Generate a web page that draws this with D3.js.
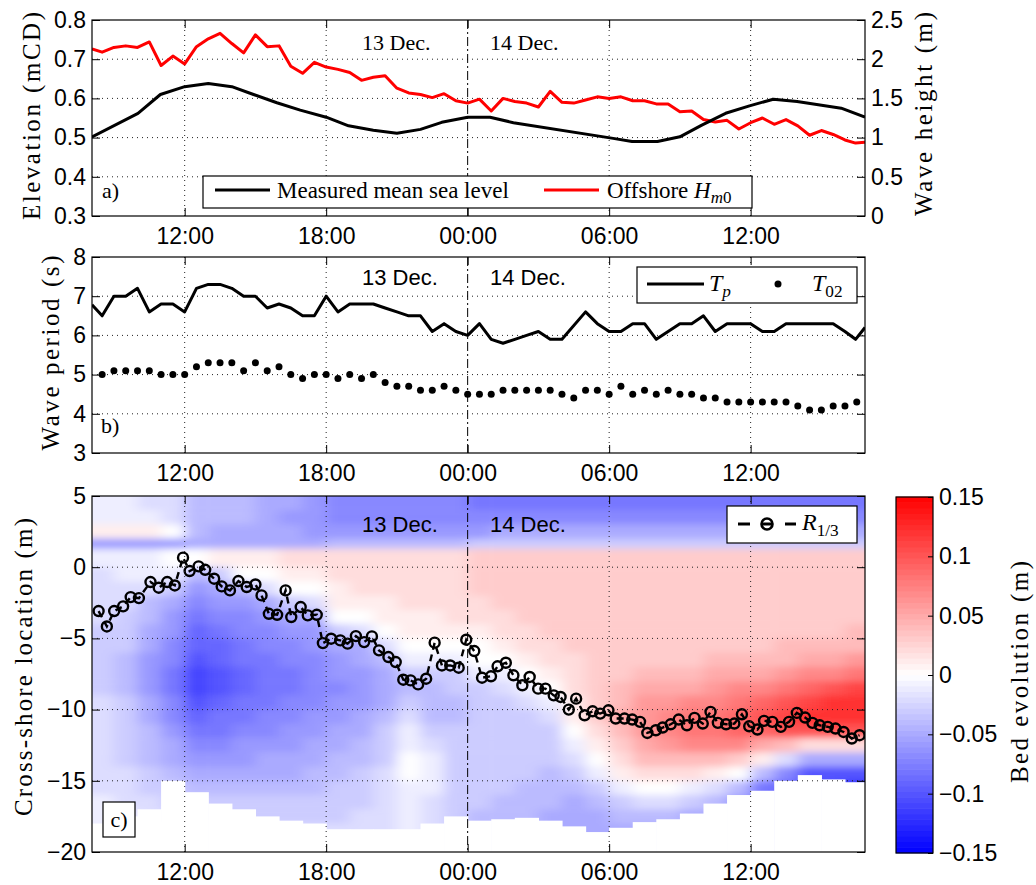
<!DOCTYPE html>
<html>
<head>
<meta charset="utf-8">
<script src="https://cdnjs.cloudflare.com/ajax/libs/d3/7.8.5/d3.min.js"></script>
<style>
  body { margin: 0; background: #fff; }
</style>
</head>
<body>
<div id="chart"></div>
<script>
// ---- data (time in hours relative to 14 Dec 00:00) ----
const timeDomain = [-15.93, 16.85];
const xTicks = [-12, -6, 0, 6, 12];
const xTickLabels = ["12:00", "18:00", "00:00", "06:00", "12:00"];

const elevTicks = [0.3, 0.4, 0.5, 0.6, 0.7, 0.8];
const waveHeightTicks = [0, 0.5, 1, 1.5, 2, 2.5];
const periodTicks = [3, 4, 5, 6, 7, 8];
const crossTicks = [5, 0, -5, -10, -15, -20];
const colorTicks = [-0.15, -0.1, -0.05, 0, 0.05, 0.1, 0.15];
const colorTickLabels = ["\u22120.15", "\u22120.1", "\u22120.05", "0", "0.05", "0.1", "0.15"];

const mslTime = [-15.93, -13.98, -13.03, -12, -11, -10, -9.08, -8.09, -7.1, -6, -5.05, -4, -3, -2, -1.1, 0, 0.95, 1.94, 6.17, 6.97, 8.05, 9, 9.93, 10.94, 11.95, 12.96, 13.97, 15.84, 16.85];
const mslValue = [0.502, 0.562, 0.610, 0.630, 0.638, 0.630, 0.610, 0.589, 0.570, 0.552, 0.530, 0.519, 0.511, 0.521, 0.539, 0.552, 0.552, 0.538, 0.498, 0.490, 0.490, 0.502, 0.532, 0.562, 0.581, 0.598, 0.592, 0.575, 0.552];

const hm0Time = [-15.93, -15.5, -15, -14.5, -14, -13.5, -13, -12.5, -12, -11.5, -11, -10.5, -10, -9.5, -9, -8.5, -8, -7.5, -7, -6.5, -6, -5.5, -5, -4.5, -4, -3.5, -3, -2.5, -2, -1.5, -1, -0.5, 0, 0.5, 1, 1.5, 2, 2.5, 3, 3.5, 4, 4.5, 5, 5.5, 6, 6.5, 7, 7.5, 8, 8.5, 9, 9.5, 10, 10.5, 11, 11.5, 12, 12.5, 13, 13.5, 14, 14.5, 15, 15.5, 16, 16.45, 16.85];
const hm0Value = [2.13, 2.09, 2.15, 2.17, 2.15, 2.22, 1.92, 2.04, 1.94, 2.16, 2.26, 2.33, 2.20, 2.08, 2.31, 2.16, 2.17, 1.91, 1.82, 1.96, 1.90, 1.87, 1.83, 1.73, 1.77, 1.79, 1.63, 1.57, 1.55, 1.51, 1.56, 1.47, 1.44, 1.49, 1.34, 1.50, 1.46, 1.44, 1.39, 1.59, 1.45, 1.44, 1.48, 1.52, 1.50, 1.52, 1.47, 1.47, 1.43, 1.43, 1.33, 1.34, 1.23, 1.20, 1.22, 1.11, 1.19, 1.25, 1.17, 1.23, 1.15, 1.03, 1.09, 1.04, 0.97, 0.93, 0.94];

const tpTime = [-15.93, -15.5, -15, -14.5, -14, -13.5, -13, -12.5, -12, -11.5, -11, -10.5, -10, -9.5, -9, -8.5, -8, -7.5, -7, -6.5, -6, -5.5, -5, -4.5, -4, -3.5, -3, -2.5, -2, -1.5, -1, -0.5, 0, 0.5, 1, 1.5, 2, 2.5, 3, 3.5, 4, 5, 5.5, 6, 6.5, 7, 7.5, 8, 8.5, 9, 9.5, 10, 10.5, 11, 11.5, 12, 12.5, 13, 13.5, 14, 14.5, 15, 15.5, 16, 16.45, 16.85];
const tpValue = [6.78, 6.5, 7.0, 7.0, 7.2, 6.6, 6.8, 6.8, 6.6, 7.2, 7.3, 7.3, 7.2, 7.0, 7.0, 6.7, 6.8, 6.7, 6.5, 6.5, 7.0, 6.6, 6.8, 6.8, 6.8, 6.7, 6.6, 6.5, 6.5, 6.1, 6.3, 6.1, 6.0, 6.3, 5.9, 5.8, 5.9, 6.0, 6.1, 5.9, 5.9, 6.6, 6.3, 6.1, 6.1, 6.3, 6.3, 5.9, 6.1, 6.3, 6.3, 6.5, 6.1, 6.3, 6.3, 6.3, 6.1, 6.1, 6.3, 6.3, 6.3, 6.3, 6.3, 6.1, 5.9, 6.2];

const t02Time = [-15.5, -15, -14.5, -14, -13.5, -13, -12.5, -12, -11.5, -11, -10.5, -10, -9.5, -9, -8.5, -8, -7.5, -7, -6.5, -6, -5.5, -5, -4.5, -4, -3.5, -3, -2.5, -2, -1.5, -1, -0.5, 0, 0.5, 1, 1.5, 2, 2.5, 3, 3.5, 4, 4.5, 5, 5.5, 6, 6.5, 7, 7.5, 8, 8.5, 9, 9.5, 10, 10.5, 11, 11.5, 12, 12.5, 13, 13.5, 14, 14.5, 15, 15.5, 16, 16.5];
const t02Value = [5.0, 5.1, 5.1, 5.1, 5.1, 5.0, 5.0, 5.0, 5.2, 5.3, 5.3, 5.3, 5.1, 5.3, 5.1, 5.2, 5.0, 4.9, 5.0, 5.0, 4.9, 5.0, 4.9, 5.0, 4.8, 4.7, 4.7, 4.6, 4.6, 4.7, 4.6, 4.5, 4.5, 4.5, 4.6, 4.6, 4.6, 4.6, 4.6, 4.5, 4.4, 4.6, 4.6, 4.5, 4.7, 4.5, 4.6, 4.5, 4.6, 4.5, 4.5, 4.4, 4.4, 4.3, 4.3, 4.3, 4.3, 4.3, 4.3, 4.2, 4.1, 4.1, 4.2, 4.2, 4.3];

const rTime = [-15.65, -15.30, -14.99, -14.61, -14.29, -13.94, -13.45, -13.10, -12.74, -12.42, -12.07, -11.79, -11.41, -11.13, -10.75, -10.43, -10.08, -9.72, -9.37, -9.0, -8.74, -8.43, -8.08, -7.72, -7.48, -7.08, -6.78, -6.40, -6.14, -5.79, -5.40, -5.09, -4.74, -4.39, -4.06, -3.76, -3.36, -3.05, -2.73, -2.42, -2.10, -1.76, -1.40, -1.09, -0.74, -0.38, -0.06, 0.28, 0.61, 0.99, 1.27, 1.62, 1.94, 2.32, 2.63, 2.99, 3.30, 3.65, 3.94, 4.29, 4.60, 4.96, 5.30, 5.62, 5.97, 6.28, 6.65, 6.98, 7.31, 7.62, 7.98, 8.27, 8.61, 8.95, 9.30, 9.62, 9.97, 10.30, 10.61, 10.96, 11.31, 11.63, 11.94, 12.29, 12.57, 12.92, 13.28, 13.63, 13.96, 14.31, 14.62, 14.93, 15.27, 15.60, 15.94, 16.29, 16.62];
const rValue = [-3.08, -4.16, -3.08, -2.75, -2.10, -2.17, -1.04, -1.44, -1.04, -1.28, 0.67, -0.27, 0.06, -0.18, -0.81, -1.35, -1.63, -0.97, -1.39, -1.21, -1.98, -3.27, -3.34, -1.63, -3.5, -2.80, -3.38, -3.34, -5.33, -5.02, -5.14, -5.37, -4.84, -5.26, -4.86, -5.84, -6.31, -6.66, -7.90, -7.95, -8.23, -7.83, -5.30, -6.90, -6.90, -7.06, -5.09, -5.89, -7.76, -7.66, -6.96, -6.71, -7.59, -8.29, -7.71, -8.53, -8.53, -9.0, -9.11, -10.0, -9.23, -10.40, -10.12, -10.28, -10.05, -10.63, -10.63, -10.70, -10.86, -11.64, -11.45, -11.26, -11.03, -10.70, -11.10, -10.58, -10.98, -10.16, -10.93, -11.03, -10.98, -10.33, -11.17, -11.40, -10.79, -10.86, -11.21, -10.86, -10.23, -10.56, -10.93, -11.10, -11.21, -11.33, -11.57, -12.03, -11.80];

// bed evolution (cm), one column per hour, rows between bedDepthEdges (top to bottom)
const bedTimes = [-15.5, -14.5, -13.5, -12.5, -11.5, -10.5, -9.5, -8.5, -7.5, -6.5, -5.5, -4.5, -3.5, -2.5, -1.5, -0.5, 0.5, 1.5, 2.5, 3.5, 4.5, 5.5, 6.5, 7.5, 8.5, 9.5, 10.5, 11.5, 12.5, 13.5, 14.5, 15.5, 16.5];
const bedDepthEdges = [5, 4, 3, 2, 1.3, 0, -1, -2, -3, -4, -5, -6, -7, -8, -9, -10, -11, -12, -13, -14, -15, -16, -17, -18, -19, -20];
const bedColumns = [
  [-1,-1,1,-6,-1,-2,-2,-2,-2,-3,-3,-3,-3,-3,-2,-2,-2,-2,-2,-2,-2,-1,-1,-1,-1],
  [-1,-1,1,-6,-1,-1,-2,-2,-3,-3,-3,-4,-4,-4,-3,-3,-3,-3,-3,-2,-2,-2,-1,-1,-1],
  [-2,-1,1,-6,-1,-1,-2,-4,-4,-5,-5,-6,-6,-6,-5,-5,-4,-4,-4,-3,-3,-2,-2,-1,-1],
  [-2,-2,0,-6,0,-1,-3,-5,-6,-6,-7,-7,-8,-8,-7,-7,-6,-5,-5,-4,-3,-3,-2,-2,-2],
  [-4,-4,-4,-5,0,-4,-6,-7,-8,-9,-9,-10,-11,-11,-10,-9,-8,-7,-6,-5,-4,-3,-3,-2,-2],
  [-4,-4,-5,-5,1,-3,-5,-6,-7,-8,-9,-9,-10,-10,-9,-8,-8,-7,-6,-5,-4,-3,-3,-2,-2],
  [-4,-4,-5,-5,1,0,-4,-6,-7,-7,-8,-8,-9,-9,-8,-8,-7,-6,-6,-5,-4,-3,-3,-2,-2],
  [-5,-5,-5,-5,1,0,-2,-5,-6,-7,-7,-8,-8,-8,-8,-7,-7,-6,-5,-5,-4,-3,-3,-2,-2],
  [-5,-6,-5,-5,2,1,0,-3,-5,-6,-7,-7,-8,-8,-7,-7,-6,-6,-5,-5,-4,-3,-3,-2,-2],
  [-6,-6,-6,-5,2,1,0,-2,-5,-6,-6,-7,-7,-7,-7,-6,-6,-5,-5,-4,-4,-3,-3,-2,-2],
  [-7,-7,-6,-4,2,2,1,1,0,-3,-5,-6,-6,-7,-6,-6,-5,-5,-4,-4,-3,-3,-3,-2,-2],
  [-7,-7,-6,-4,2,2,2,1,0,-2,-5,-5,-6,-6,-6,-5,-5,-4,-4,-3,-3,-3,-2,-2,-2],
  [-7,-7,-6,-4,2,2,2,1,1,0,-2,-4,-5,-5,-5,-4,-3,-3,-3,-2,-2,-2,-2,-2,-2],
  [-7,-7,-6,-4,2,2,2,2,1,1,0,-1,-3,-4,-3,-2,-1,-1,0,0,-1,-1,-1,-1,-1],
  [-7,-7,-6,-4,2,2,2,2,1,1,0,-1,-3,-4,-4,-4,-3,-2,-1,-1,-1,-2,-2,-2,-2],
  [-7,-7,-6,-4,2,2,2,2,2,1,0,-1,-3,-3,-4,-4,-3,-3,-3,-3,-3,-3,-3,-3,-3],
  [-8,-7,-6,-3,3,3,3,2,2,1,0,0,-1,-3,-3,-3,-3,-3,-3,-3,-3,-3,-4,-4,-4],
  [-8,-7,-5,-3,3,3,3,3,2,2,1,0,-1,-2,-3,-3,-3,-3,-3,-3,-3,-4,-4,-4,-4],
  [-8,-7,-5,-3,3,3,3,3,3,2,2,1,0,-1,-2,-3,-3,-3,-3,-3,-4,-4,-4,-4,-4],
  [-8,-7,-5,-3,3,3,3,3,3,3,2,2,1,0,-1,-2,-3,-3,-3,-4,-4,-4,-5,-5,-5],
  [-8,-7,-5,-3,3,3,3,3,3,3,3,2,2,2,1,1,0,-1,-2,-3,-4,-5,-5,-5,-5],
  [-8,-7,-5,-3,3,3,3,3,3,3,3,3,3,3,3,3,2,1,0,-1,-3,-4,-5,-5,-5],
  [-8,-7,-5,-3,3,3,3,3,3,3,3,3,3,4,4,5,4,3,2,1,-1,-3,-4,-5,-5],
  [-8,-7,-5,-3,3,3,3,3,3,3,3,3,4,5,6,6,6,5,4,2,0,-2,-4,-5,-5],
  [-8,-7,-5,-3,3,3,3,3,3,3,3,3,4,5,6,7,7,6,4,2,0,-2,-4,-5,-5],
  [-8,-7,-5,-3,3,3,3,3,3,3,3,3,4,5,7,8,8,7,4,2,-1,-3,-5,-5,-5],
  [-8,-7,-5,-3,3,3,3,3,3,3,3,4,5,6,7,8,8,7,4,1,-2,-4,-5,-5,-5],
  [-8,-7,-5,-3,3,3,3,3,3,3,3,4,5,7,8,9,9,7,3,0,-4,-6,-6,-6,-6],
  [-8,-7,-5,-3,3,3,3,3,3,3,3,4,5,7,9,10,9,5,1,-4,-8,-8,-8,-8,-8],
  [-8,-7,-5,-3,3,3,3,3,3,3,4,4,6,8,10,11,10,4,-2,-7,-9,-9,-9,-9,-9],
  [-8,-7,-5,-3,3,3,3,3,3,3,4,5,7,9,11,12,10,2,-5,-10,-11,-11,-11,-11,-11],
  [-8,-7,-5,-3,3,3,3,3,3,3,4,5,7,10,12,12,10,2,-5,-10,-11,-11,-11,-11,-11],
  [-8,-7,-5,-3,3,3,3,3,3,4,4,6,8,11,12,12,10,2,-5,-10,-12,-12,-12,-12,-12]
];
// lowest cross-shore position with data, per column (white below)
const bedFloor = [-18.0, -17.5, -17.0, -15.0, -15.8, -16.6, -17.0, -17.5, -17.8, -18.0, -18.4, -18.4, -18.4, -18.4, -18.0, -17.5, -17.8, -17.7, -17.6, -17.8, -18.2, -18.6, -18.3, -17.9, -17.7, -17.3, -16.6, -16.0, -15.7, -15.0, -14.6, -14.9, -15.1];

// ---- layout ----
const width = 1036, height = 885;
const X0 = 92, X1 = 865;
const pA = { top: 20, bottom: 216 };
const pB = { top: 257, bottom: 453 };
const pC = { top: 496, bottom: 852 };
const cb = { left: 896, right: 933, top: 497, bottom: 853 };

const sans = "'Liberation Sans', Arial, Helvetica, sans-serif";
const serif = "'Liberation Serif', 'Times New Roman', serif";
const tickSize = 23;

const svg = d3.select("#chart").append("svg")
  .attr("width", width).attr("height", height)
  .style("background", "#fff");

const defs = svg.append("defs");
[["clipA", pA], ["clipB", pB], ["clipC", pC]].forEach(([id, p]) => {
  defs.append("clipPath").attr("id", id).append("rect")
    .attr("x", X0).attr("y", p.top).attr("width", X1 - X0).attr("height", p.bottom - p.top);
});
defs.append("filter").attr("id", "soft")
  .append("feGaussianBlur").attr("stdDeviation", "7 3.5");

const x = d3.scaleLinear().domain(timeDomain).range([X0, X1]);
const yElev = d3.scaleLinear().domain([0.3, 0.8]).range([pA.bottom, pA.top]);
const yHs = d3.scaleLinear().domain([0, 2.5]).range([pA.bottom, pA.top]);
const yPer = d3.scaleLinear().domain([3, 8]).range([pB.bottom, pB.top]);
const yCross = d3.scaleLinear().domain([-20, 5]).range([pC.bottom, pC.top]);
const color = d3.scaleLinear().domain([-0.15, 0, 0.15]).range(["#0000ff", "#ffffff", "#ff0000"]).clamp(true);

function grid(p, yScale, yTicks) {
  const g = svg.append("g").attr("stroke", "#222").attr("stroke-width", 1).attr("stroke-dasharray", "1,4");
  g.selectAll("line.gx").data(xTicks.filter(d => d !== 0)).join("line")
    .attr("x1", d => x(d)).attr("x2", d => x(d)).attr("y1", p.top).attr("y2", p.bottom);
  g.selectAll("line.gy").data(yTicks.slice(1, -1)).join("line")
    .attr("x1", X0).attr("x2", X1).attr("y1", d => yScale(d)).attr("y2", d => yScale(d));
  // midnight dash-dot line
  svg.append("line")
    .attr("x1", x(0)).attr("x2", x(0)).attr("y1", p.top).attr("y2", p.bottom)
    .attr("stroke", "#000").attr("stroke-width", 1).attr("stroke-dasharray", "9,3,2,3");
}

function styleAxis(g) {
  g.select(".domain").remove();
  g.selectAll(".tick line").attr("stroke", "#000");
  g.selectAll(".tick text").attr("font-family", sans).attr("font-size", tickSize).attr("fill", "#000");
}

function axes(p, yScale, yTicks, yFmt, rightScale, rightTicks, rightFmt) {
  svg.append("g").attr("transform", `translate(0,${p.bottom})`)
    .call(d3.axisBottom(x).tickValues(xTicks).tickFormat((d, i) => xTickLabels[i]).tickSize(-8).tickPadding(12))
    .call(styleAxis);
  svg.append("g").attr("transform", `translate(0,${p.top})`)
    .call(d3.axisTop(x).tickValues(xTicks).tickFormat("").tickSize(-8))
    .call(styleAxis);
  svg.append("g").attr("transform", `translate(${X0},0)`)
    .call(d3.axisLeft(yScale).tickValues(yTicks).tickFormat(yFmt).tickSize(-8).tickPadding(6))
    .call(styleAxis);
  svg.append("g").attr("transform", `translate(${X1},0)`)
    .call(d3.axisRight(rightScale || yScale).tickValues(rightTicks || yTicks)
      .tickFormat(rightFmt || "").tickSize(-8).tickPadding(6))
    .call(styleAxis);
  svg.append("rect").attr("x", X0).attr("y", p.top).attr("width", X1 - X0).attr("height", p.bottom - p.top)
    .attr("fill", "none").attr("stroke", "#000").attr("stroke-width", 1.2);
}

function rotLabel(txt, cx, cy, len, size) {
  svg.append("text")
    .attr("transform", `translate(${cx},${cy}) rotate(-90)`)
    .attr("text-anchor", "middle").attr("dy", "0.33em")
    .attr("font-family", serif).attr("font-size", size)
    .attr("textLength", len).attr("lengthAdjust", "spacing")
    .text(txt);
}

function dateLabels(yBase, font, size) {
  svg.append("text").attr("x", 362).attr("y", yBase).attr("font-family", font).attr("font-size", size).text("13 Dec.");
  svg.append("text").attr("x", 490).attr("y", yBase).attr("font-family", font).attr("font-size", size).text("14 Dec.");
}

function mathLabel(g, px, py, main, sub, subItalic, size) {
  const t = g.append("text").attr("x", px).attr("y", py).attr("font-family", serif).attr("font-size", size);
  t.append("tspan").attr("font-style", "italic").text(main);
  t.append("tspan").attr("dy", 6).attr("font-size", size * 0.72)
    .attr("font-style", subItalic ? "italic" : "normal").text(sub);
  return t;
}

// ================= panel a =================
grid(pA, yElev, elevTicks);
const gA = svg.append("g").attr("clip-path", "url(#clipA)");
gA.append("path")
  .datum(d3.zip(hm0Time, hm0Value))
  .attr("d", d3.line().x(d => x(d[0])).y(d => yHs(d[1])))
  .attr("fill", "none").attr("stroke", "#ff0000").attr("stroke-width", 3).attr("stroke-linejoin", "round");
gA.append("path")
  .datum(d3.zip(mslTime, mslValue))
  .attr("d", d3.line().x(d => x(d[0])).y(d => yElev(d[1])))
  .attr("fill", "none").attr("stroke", "#000").attr("stroke-width", 3).attr("stroke-linejoin", "round");
axes(pA, yElev, elevTicks, d3.format(".1f"), yHs, waveHeightTicks, d3.format("~g"));
dateLabels(50, serif, 22);
svg.append("text").attr("x", 102).attr("y", 198).attr("font-family", serif).attr("font-size", 22).text("a)");

const legA = svg.append("g");
legA.append("rect").attr("x", 203).attr("y", 176).attr("width", 549).attr("height", 32)
  .attr("fill", "#fff").attr("stroke", "#000").attr("stroke-width", 1.2);
legA.append("line").attr("x1", 215).attr("x2", 270).attr("y1", 190).attr("y2", 190)
  .attr("stroke", "#000").attr("stroke-width", 3);
legA.append("text").attr("x", 277).attr("y", 198).attr("font-family", serif).attr("font-size", 23)
  .text("Measured mean sea level");
legA.append("line").attr("x1", 544).attr("x2", 599).attr("y1", 190).attr("y2", 190)
  .attr("stroke", "#ff0000").attr("stroke-width", 3);
const offT = legA.append("text").attr("x", 607).attr("y", 198).attr("font-family", serif).attr("font-size", 23);
offT.append("tspan").text("Offshore ");
offT.append("tspan").attr("font-style", "italic").text("H");
offT.append("tspan").attr("dy", 5).attr("font-size", 17).attr("font-style", "italic").text("m");
offT.append("tspan").attr("font-size", 17).text("0");

rotLabel("Elevation (mCD)", 32, 116, 208, 25);
rotLabel("Wave height (m)", 924, 114, 204, 25);

// ================= panel b =================
grid(pB, yPer, periodTicks);
const gB = svg.append("g").attr("clip-path", "url(#clipB)");
gB.append("path")
  .datum(d3.zip(tpTime, tpValue))
  .attr("d", d3.line().x(d => x(d[0])).y(d => yPer(d[1])))
  .attr("fill", "none").attr("stroke", "#000").attr("stroke-width", 3).attr("stroke-linejoin", "round");
gB.selectAll("circle.t02").data(d3.zip(t02Time, t02Value)).join("circle")
  .attr("cx", d => x(d[0])).attr("cy", d => yPer(d[1])).attr("r", 3.5).attr("fill", "#000");
axes(pB, yPer, periodTicks, d3.format("d"));
dateLabels(285, sans, 22);
svg.append("text").attr("x", 101).attr("y", 433).attr("font-family", serif).attr("font-size", 22).text("b)");

const legB = svg.append("g");
legB.append("rect").attr("x", 637).attr("y", 267).attr("width", 220).attr("height", 36)
  .attr("fill", "#fff").attr("stroke", "#000").attr("stroke-width", 1.2);
legB.append("line").attr("x1", 647).attr("x2", 704).attr("y1", 284).attr("y2", 284)
  .attr("stroke", "#000").attr("stroke-width", 3);
mathLabel(legB, 709, 291, "T", "p", true, 24);
legB.append("circle").attr("cx", 778).attr("cy", 284).attr("r", 3.5).attr("fill", "#000");
mathLabel(legB, 812, 291, "T", "02", false, 24);

rotLabel("Wave period (s)", 51, 353, 195, 25);

// ================= panel c =================
const cells = [];
bedColumns.forEach((col, i) => col.forEach((v, j) => cells.push({ i, j, v: v / 100 })));
const lastCol = bedTimes.length - 1, lastRow = bedDepthEdges.length - 2;
const gC = svg.append("g").attr("clip-path", "url(#clipC)");
gC.append("g").attr("filter", "url(#soft)")
  .selectAll("rect").data(cells).join("rect")
  .attr("x", d => x(bedTimes[d.i] - 0.5) - (d.i === 0 ? 30 : 0))
  .attr("width", d => x(bedTimes[d.i] + 0.5) - x(bedTimes[d.i] - 0.5) + 0.6 + (d.i === 0 || d.i === lastCol ? 30 : 0))
  .attr("y", d => yCross(bedDepthEdges[d.j]) - (d.j === 0 ? 30 : 0))
  .attr("height", d => yCross(bedDepthEdges[d.j + 1]) - yCross(bedDepthEdges[d.j]) + 0.6 + (d.j === 0 || d.j === lastRow ? 30 : 0))
  .attr("fill", d => color(d.v));
gC.selectAll("rect.mask").data(bedTimes).join("rect")
  .attr("x", (d, i) => x(d - 0.5) - (i === 0 ? 30 : 0))
  .attr("width", (d, i) => x(d + 0.5) - x(d - 0.5) + 0.6 + (i === 0 || i === lastCol ? 30 : 0))
  .attr("y", (d, i) => yCross(bedFloor[i]))
  .attr("height", (d, i) => pC.bottom + 10 - yCross(bedFloor[i]))
  .attr("fill", "#fff");

grid(pC, yCross, crossTicks.slice().reverse());

const rPts = d3.zip(rTime, rValue);
gC.append("path")
  .datum(rPts)
  .attr("d", d3.line().x(d => x(d[0])).y(d => yCross(d[1])))
  .attr("fill", "none").attr("stroke", "#000").attr("stroke-width", 2.4).attr("stroke-dasharray", "7,5");
gC.selectAll("circle.r").data(rPts).join("circle")
  .attr("cx", d => x(d[0])).attr("cy", d => yCross(d[1])).attr("r", 5)
  .attr("fill", "none").attr("stroke", "#000").attr("stroke-width", 2.4);

axes(pC, yCross, crossTicks, d3.format("d"));
dateLabels(532, sans, 22);

svg.append("rect").attr("x", 103).attr("y", 802).attr("width", 32).attr("height", 35)
  .attr("fill", "#fff").attr("stroke", "#000").attr("stroke-width", 1.2);
svg.append("text").attr("x", 119).attr("y", 827).attr("text-anchor", "middle")
  .attr("font-family", serif).attr("font-size", 22).text("c)");

const legC = svg.append("g");
legC.append("rect").attr("x", 727).attr("y", 506).attr("width", 130).attr("height", 37)
  .attr("fill", "#fff").attr("stroke", "#000").attr("stroke-width", 1.2);
[[738, 750], [761, 773], [785, 796]].forEach(s => {
  legC.append("line").attr("x1", s[0]).attr("x2", s[1]).attr("y1", 524).attr("y2", 524)
    .attr("stroke", "#000").attr("stroke-width", 3);
});
legC.append("circle").attr("cx", 767).attr("cy", 524).attr("r", 5.5)
  .attr("fill", "none").attr("stroke", "#000").attr("stroke-width", 2.6);
mathLabel(legC, 802, 530, "R", "1/3", false, 24);

rotLabel("Cross-shore location (m)", 24, 667, 298, 25);

// ================= colorbar =================
const cbY = d3.scaleLinear().domain([-0.15, 0.15]).range([cb.bottom, cb.top]);
const levels = d3.range(64).map(k => -0.15 + (k + 0.5) * 0.3 / 64);
svg.append("g").selectAll("rect").data(levels).join("rect")
  .attr("x", cb.left).attr("width", cb.right - cb.left)
  .attr("y", d => cbY(d + 0.15 / 64) - 0.3)
  .attr("height", (cb.bottom - cb.top) / 64 + 0.6)
  .attr("fill", d => color(d));
svg.append("g").attr("transform", `translate(${cb.right},0)`)
  .call(d3.axisRight(cbY).tickValues(colorTicks).tickFormat((d, i) => colorTickLabels[i]).tickSize(-5).tickPadding(6))
  .call(styleAxis);
svg.append("rect").attr("x", cb.left).attr("y", cb.top).attr("width", cb.right - cb.left).attr("height", cb.bottom - cb.top)
  .attr("fill", "none").attr("stroke", "#000").attr("stroke-width", 1.2);
rotLabel("Bed evolution (m)", 1020, 672, 222, 25);
</script>
</body>
</html>
